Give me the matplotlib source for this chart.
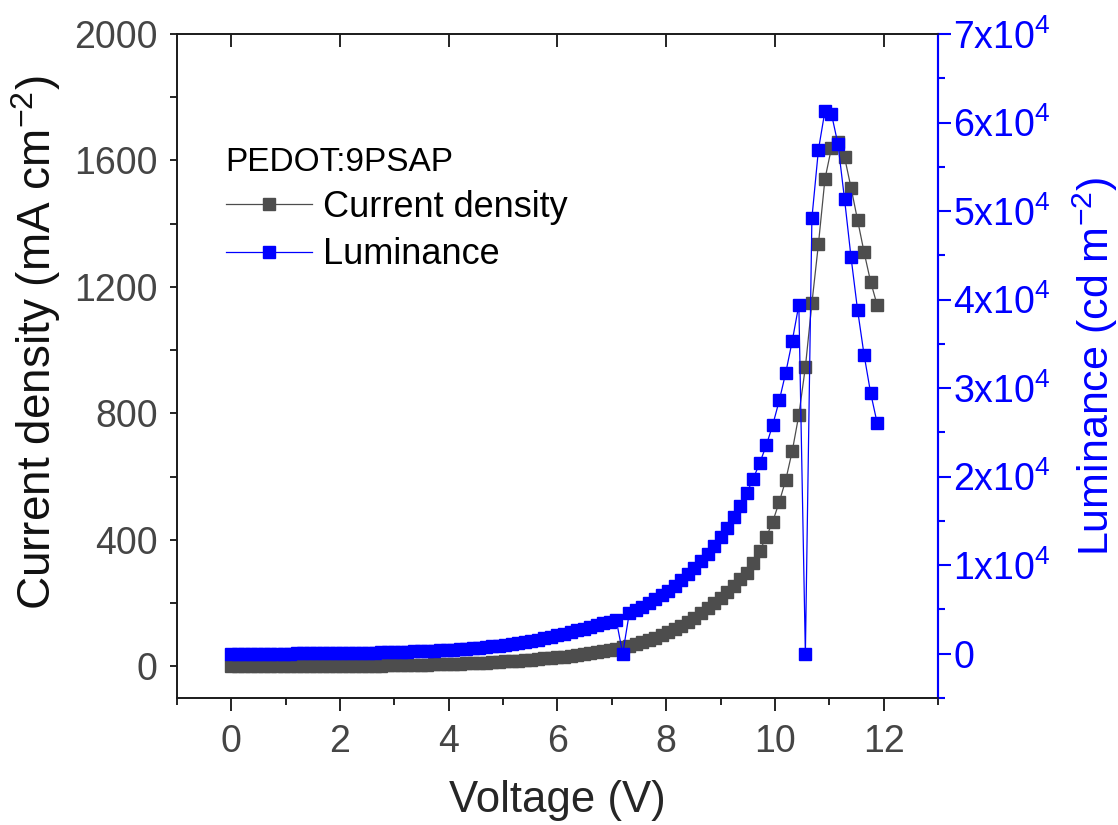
import matplotlib
matplotlib.use('Agg')
import matplotlib.pyplot as plt
from matplotlib.lines import Line2D
from matplotlib.ticker import MultipleLocator, FuncFormatter

plt.rcParams['font.family'] = ['Liberation Sans', 'DejaVu Sans']
plt.rcParams['mathtext.fontset'] = 'custom'
plt.rcParams['mathtext.rm'] = 'Liberation Sans'
plt.rcParams['mathtext.it'] = 'Liberation Sans:italic'
plt.rcParams['mathtext.bf'] = 'Liberation Sans:bold'

# voltage sweep (V), 0.12 V steps
voltage = [
    0.00, 0.12, 0.24, 0.36, 0.48, 0.60, 0.72, 0.84, 0.96, 1.08,
    1.20, 1.32, 1.44, 1.56, 1.68, 1.80, 1.92, 2.04, 2.16, 2.28,
    2.40, 2.52, 2.64, 2.76, 2.88, 3.00, 3.12, 3.24, 3.36, 3.48,
    3.60, 3.72, 3.84, 3.96, 4.08, 4.20, 4.32, 4.44, 4.56, 4.68,
    4.80, 4.92, 5.04, 5.16, 5.28, 5.40, 5.52, 5.64, 5.76, 5.88,
    6.00, 6.12, 6.24, 6.36, 6.48, 6.60, 6.72, 6.84, 6.96, 7.08,
    7.20, 7.32, 7.44, 7.56, 7.68, 7.80, 7.92, 8.04, 8.16, 8.28,
    8.40, 8.52, 8.64, 8.76, 8.88, 9.00, 9.12, 9.24, 9.36, 9.48,
    9.60, 9.72, 9.84, 9.96, 10.08, 10.20, 10.32, 10.44, 10.56, 10.68,
    10.80, 10.92, 11.04, 11.16, 11.28, 11.40, 11.52, 11.64, 11.76, 11.88,
]

# current density (mA cm^-2)
current_density = [
    0, 0, 0, 0.1, 0.1, 0.1, 0.2, 0.2, 0.3, 0.3,
    0.4, 0.5, 0.6, 0.7, 0.8, 0.9, 1.0, 1.2, 1.4, 1.6,
    1.8, 2.0, 2.3, 2.6, 2.9, 3.2, 3.6, 4.0, 4.4, 4.9,
    5.4, 5.9, 6.5, 7.1, 7.8, 8.5, 9.3, 10.2, 11.1, 12.1,
    13.2, 14.3, 15.5, 16.8, 18.2, 19.7, 21.3, 23.0, 25.0, 27.0,
    29.0, 31.0, 33.5, 36.0, 38.5, 41.5, 44.5, 48.0, 51.5, 55.5,
    60, 65, 71, 77, 84, 91, 99, 108, 118, 129,
    141, 154, 168, 183, 199, 216, 234, 254, 275, 296,
    328, 366, 408, 458, 520, 590, 682, 795, 946, 1148,
    1335, 1541, 1640, 1659, 1611, 1514, 1412, 1310, 1217, 1143,
]

# luminance (cd m^-2)
luminance = [
    1, 2, 3, 4, 6, 8, 10, 13, 16, 19,
    23, 27, 32, 37, 43, 50, 57, 65, 74, 84,
    95, 108, 122, 138, 156, 176, 198, 222, 249, 278,
    310, 345, 383, 424, 468, 515, 565, 620, 680, 746,
    818, 897, 984, 1080, 1185, 1300, 1426, 1564, 1716, 1882,
    2065, 2265, 2480, 2650, 2830, 3020, 3220, 3420, 3620, 3830,
    0, 4550, 4900, 5280, 5690, 6130, 6600, 7130, 7700, 8310,
    8970, 9690, 10460, 11300, 12200, 13180, 14190, 15430, 16710, 18140,
    19760, 21530, 23520, 25850, 28600, 31760, 35370, 39400, 0, 49190,
    56900, 61300, 60970, 57550, 51370, 44790, 38840, 33760, 29470, 26080,
]

GRAY = '#4d4d4d'
BLUE = '#0000ff'
TICK_GRAY = '#454545'
MS = 9

fig = plt.figure(figsize=(11.18, 8.25), dpi=100)
ax = fig.add_axes([0.1583, 0.154, 0.839 - 0.1583, 0.9588 - 0.154])
ax2 = ax.twinx()

ax.plot(voltage, current_density, color=GRAY, lw=0.9, marker='s', ms=MS,
        mfc=GRAY, mec=GRAY, label='Current density')
ax2.plot(voltage, luminance, color=BLUE, lw=0.9, marker='s', ms=MS,
         mfc=BLUE, mec=BLUE, label='Luminance')

ax.set_xlim(-1, 13)
ax.set_ylim(-100, 2000)
ax2.set_ylim(-5000, 70000)

ax.xaxis.set_major_locator(MultipleLocator(2))
ax.xaxis.set_minor_locator(MultipleLocator(1))
ax.yaxis.set_major_locator(MultipleLocator(400))
ax.yaxis.set_minor_locator(MultipleLocator(200))
ax2.yaxis.set_major_locator(MultipleLocator(10000))
ax2.yaxis.set_minor_locator(MultipleLocator(5000))


def lum_label(v, pos):
    n = int(round(v / 1e4))
    if n == 0:
        return '0'
    return r'$\mathregular{%dx10^{4}}$' % n


ax2.yaxis.set_major_formatter(FuncFormatter(lum_label))

for a in (ax, ax2):
    for side in ('left', 'bottom', 'top'):
        a.spines[side].set_color('#1a1a1a')
        a.spines[side].set_linewidth(1.2)
    a.spines['right'].set_color(BLUE)
    a.spines['right'].set_linewidth(1.5)

ax.tick_params(axis='x', which='major', direction='out', length=9, width=1.2,
               labelsize=27, pad=10, labelcolor=TICK_GRAY, top=False)
ax.tick_params(axis='x', which='minor', direction='out', length=5, width=1.2, top=False)
ax.tick_params(axis='y', which='major', direction='out', length=5, width=1.2,
               labelsize=27, pad=9, labelcolor=TICK_GRAY)
ax.tick_params(axis='y', which='minor', direction='out', length=5, width=1.2)
ax2.tick_params(axis='y', which='major', direction='out', length=9, width=1.5,
                labelsize=27, pad=2, colors=BLUE)
ax2.tick_params(axis='y', which='minor', direction='out', length=5, width=1.5, colors=BLUE)

# inward ticks along the top
ax_top = ax.secondary_xaxis('top')
ax_top.xaxis.set_major_locator(MultipleLocator(2))
ax_top.tick_params(axis='x', direction='in', length=9, width=1.2, labeltop=False)
ax_top.spines['top'].set_visible(False)

ax.set_xlabel('Voltage (V)', fontsize=31.5, color='#262626', labelpad=14)
ax.set_ylabel('Current density (mA cm$^{-2}$)', fontsize=33, color='#111111',
              labelpad=8, y=0.535)
ax2.set_ylabel('Luminance (cd m$^{-2}$)', fontsize=31, color=BLUE, labelpad=14)

handles = [
    Line2D([], [], color=GRAY, lw=0.9, marker='s', ms=MS, mfc=GRAY, mec=GRAY),
    Line2D([], [], color=BLUE, lw=0.9, marker='s', ms=MS, mfc=BLUE, mec=BLUE),
]
leg = ax2.legend(handles, ['Current density', 'Luminance'], title='PEDOT:9PSAP',
                 loc='upper left', bbox_to_anchor=(0.045, 0.852), frameon=False,
                 fontsize=26, title_fontsize=24, alignment='left',
                 handlelength=2.4, handletextpad=0.3, labelspacing=0.34,
                 borderaxespad=0, numpoints=1)

fig.savefig('out.png', dpi=100)
